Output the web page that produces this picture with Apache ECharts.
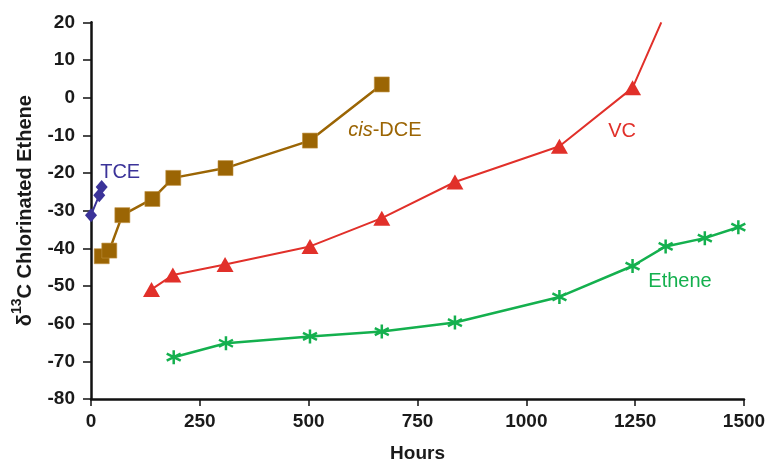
<!DOCTYPE html>
<html>
<head>
<meta charset="utf-8">
<script src="https://cdn.jsdelivr.net/npm/echarts@6/dist/echarts.min.js"></script>
<style>
  html, body { margin: 0; padding: 0; background: #fff; }
  #chart { width: 769px; height: 468px; }
</style>
</head>
<body>
<div id="chart"></div>
<script>
// Carbon isotope ratios (δ13C, ‰) of chlorinated ethenes and ethene over time
const hoursTicks = [0, 250, 500, 750, 1000, 1250, 1500];
const deltaTicks = [-80, -70, -60, -50, -40, -30, -20, -10, 0, 10, 20];

const tceHours = [0, 19, 24.5];
const tceDelta = [-31.2, -25.9, -23.7];

const dceHours = [24.6, 42, 72, 141, 189, 309, 503, 668];
const dceDelta = [-42.1, -40.6, -31.2, -26.9, -21.3, -18.7, -11.4, 3.5];

const vcHours = [139, 188, 308, 503, 668, 836, 1076, 1244, 1310];
const vcDelta = [-50.9, -47.1, -44.3, -39.5, -32.0, -22.4, -12.9, 2.6, 20];

const etheneHours = [190, 310, 503, 668, 836, 1076, 1244, 1320, 1410, 1487];
const etheneDelta = [-68.9, -65.2, -63.4, -62.1, -59.7, -52.9, -44.7, -39.5, -37.3, -34.4];

// Series name annotations, placed in data coordinates
const labelNames = ['TCE', 'cis-DCE', 'VC', 'Ethene'];
const labelHours = [67, 675, 1220, 1353];
const labelDelta = [-20.0, -8.8, -9.1, -48.9];

const COLORS = {
  'TCE': '#3b3399',
  'cis-DCE': '#9b6504',
  'VC': '#e1302a',
  'Ethene': '#14b04e'
};

const FONT = "'Liberation Sans', Arial, Helvetica, sans-serif";
const AXIS_TEXT = '#1a1a1a';

function pairs(xs, ys) { return xs.map((x, i) => [x, ys[i]]); }

const vcData = pairs(vcHours, vcDelta).map((p, i, arr) =>
  i === arr.length - 1 ? { value: p, symbol: 'none' } : p);

// six-armed asterisk marker
const starPath = 'path://M0,-6L0,6M-5.2,-3L5.2,3M-5.2,3L5.2,-3';

const chart = echarts.init(document.getElementById('chart'), null, { renderer: 'canvas' });

chart.setOption({
  animation: false,
  backgroundColor: '#ffffff',
  textStyle: { fontFamily: FONT },
  grid: { left: 91, right: 25, top: 22.3, bottom: 65.7, containLabel: false },
  xAxis: {
    type: 'value',
    min: hoursTicks[0],
    max: hoursTicks[hoursTicks.length - 1],
    interval: hoursTicks[1] - hoursTicks[0],
    name: 'Hours',
    nameLocation: 'middle',
    nameGap: 45,
    nameTextStyle: { fontSize: 19, fontWeight: 'bold', color: AXIS_TEXT, fontFamily: FONT },
    axisLine: { show: true, onZero: false, lineStyle: { color: '#111', width: 2.5 } },
    axisTick: { show: true, length: 7, lineStyle: { color: '#111', width: 1.5 } },
    axisLabel: {
      fontSize: 19, fontWeight: 'bold', color: AXIS_TEXT, margin: 13, fontFamily: FONT,
      formatter: v => String(v)
    },
    splitLine: { show: false }
  },
  yAxis: {
    type: 'value',
    min: deltaTicks[0],
    max: deltaTicks[deltaTicks.length - 1],
    interval: deltaTicks[1] - deltaTicks[0],
    name: '{d|δ}{s|13}{d|C Chlorinated Ethene}',
    nameLocation: 'middle',
    nameGap: 56,
    nameTextStyle: {
      fontSize: 20, fontWeight: 'bold', color: AXIS_TEXT, fontFamily: FONT,
      rich: {
        d: { fontSize: 20, fontWeight: 'bold', color: AXIS_TEXT, fontFamily: FONT, lineHeight: 25, verticalAlign: 'bottom' },
        s: { fontSize: 14, fontWeight: 'bold', color: AXIS_TEXT, fontFamily: FONT, lineHeight: 15, verticalAlign: 'top' }
      }
    },
    axisLine: { show: true, onZero: false, lineStyle: { color: '#111', width: 2.5 } },
    axisTick: { show: true, length: 8, lineStyle: { color: '#111', width: 1.5 } },
    axisLabel: { fontSize: 19, fontWeight: 'bold', color: AXIS_TEXT, margin: 16, fontFamily: FONT },
    splitLine: { show: false }
  },
  series: [
    {
      name: 'TCE',
      type: 'line',
      data: pairs(tceHours, tceDelta),
      symbol: 'diamond',
      symbolSize: [12, 14],
      lineStyle: { color: COLORS['TCE'], width: 2 },
      itemStyle: { color: COLORS['TCE'] },
      z: 5
    },
    {
      name: 'cis-DCE',
      type: 'line',
      data: pairs(dceHours, dceDelta),
      symbol: 'rect',
      symbolSize: 15,
      lineStyle: { color: COLORS['cis-DCE'], width: 2.5 },
      itemStyle: { color: COLORS['cis-DCE'], borderColor: '#c09040', borderWidth: 0.6 },
      z: 4
    },
    {
      name: 'VC',
      type: 'line',
      data: vcData,
      symbol: 'triangle',
      symbolSize: [17, 15],
      lineStyle: { color: COLORS['VC'], width: 2 },
      itemStyle: { color: COLORS['VC'] },
      z: 3
    },
    {
      name: 'Ethene',
      type: 'line',
      data: pairs(etheneHours, etheneDelta),
      symbol: starPath,
      symbolSize: 14,
      lineStyle: { color: COLORS['Ethene'], width: 2.5 },
      itemStyle: { color: COLORS['Ethene'], borderColor: COLORS['Ethene'], borderWidth: 2.5 },
      z: 3
    },
    {
      name: 'labels',
      type: 'scatter',
      symbolSize: 0,
      silent: true,
      itemStyle: { opacity: 1 },
      data: labelNames.map((n, i) => ({
        name: n,
        value: [labelHours[i], labelDelta[i]],
        label: { color: COLORS[n] }
      })),
      label: {
        show: true,
        position: 'inside',
        fontSize: 20,
        fontFamily: FONT,
        opacity: 1,
        formatter: p => p.name === 'cis-DCE' ? '{i|cis}-DCE' : p.name,
        rich: {
          i: { fontStyle: 'italic', fontSize: 20, fontFamily: FONT, color: COLORS['cis-DCE'] }
        }
      },
      z: 6
    }
  ]
});
</script>
</body>
</html>
